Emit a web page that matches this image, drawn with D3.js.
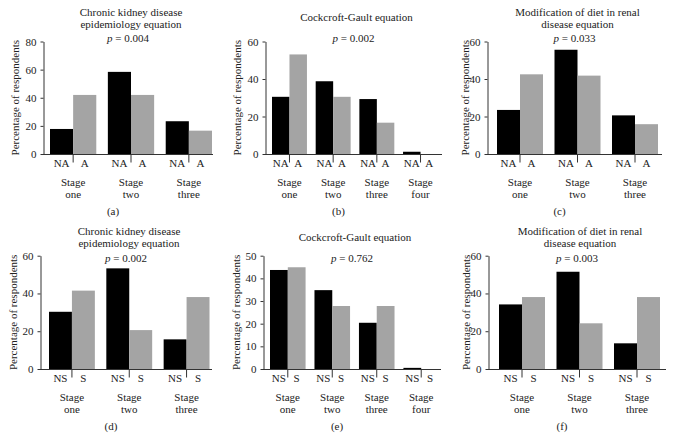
<!DOCTYPE html>
<html>
<head>
<meta charset="utf-8">
<script src="https://cdn.jsdelivr.net/npm/d3@7"></script>
<style>
  body { margin: 0; background: #fff; }
</style>
</head>
<body>
<svg id="chart" width="673" height="448"></svg>
<script>
// data
var stages3 = ["Stage one", "Stage two", "Stage three"];
var stages4 = ["Stage one", "Stage two", "Stage three", "Stage four"];

var ckdNA = [17.8, 58.4, 23.3], ckdA = [42.0, 42.0, 16.6];
var cgNA = [30.5, 38.8, 29.3, 1.2], cgA = [53.1, 30.5, 16.7, 0];
var mdrdNA = [23.5, 55.6, 20.6], mdrdA = [42.5, 41.8, 15.9];

var ckdNS = [30.3, 53.3, 15.7], ckdS = [41.5, 20.6, 38.1];
var cgNS = [43.7, 34.8, 20.4, 0.5], cgS = [44.9, 27.8, 27.8, 0];
var mdrdNS = [34.2, 51.5, 13.6], mdrdS = [38.1, 24.2, 38.1];

var ticks80 = [0, 20, 40, 60, 80], ticks60 = [0, 20, 40, 60], ticks50 = [0, 10, 20, 30, 40, 50];

// panels: data + where they sit
var panels = [
  {title: ["Chronic kidney disease", "epidemiology equation"], p: "0.004", letter: "(a)",
   stages: stages3, groups: ["NA", "A"], s1: ckdNA, s2: ckdA, ticks: ticks80,
   y0: 154, yTop: 41.5, axisX: 43, bx: [50, 212], axisEnd: 213, titleY: 16, pY: 42, ylab: 28},
  {title: ["Cockcroft-Gault equation"], p: "0.002", letter: "(b)",
   stages: stages4, groups: ["NA", "A"], s1: cgNA, s2: cgA, ticks: ticks60,
   y0: 154, yTop: 41.5, axisX: 265, bx: [272, 438], axisEnd: 442, titleY: 20.5, pY: 42, ylab: 28},
  {title: ["Modification of diet in renal", "disease equation"], p: "0.033", letter: "(c)",
   stages: stages3, groups: ["NA", "A"], s1: mdrdNA, s2: mdrdA, ticks: ticks60,
   y0: 154, yTop: 41.5, axisX: 487, bx: [497, 658], axisEnd: 662, titleY: 16, pY: 42, ylab: 22},
  {title: ["Chronic kidney disease", "epidemiology equation"], p: "0.002", letter: "(d)",
   stages: stages3, groups: ["NS", "S"], s1: ckdNS, s2: ckdS, ticks: ticks60,
   y0: 369, yTop: 255.7, axisX: 40, bx: [49, 209.5], axisEnd: 212, titleY: 235, pY: 262, ylab: 27},
  {title: ["Cockcroft-Gault equation"], p: "0.762", letter: "(e)",
   stages: stages4, groups: ["NS", "S"], s1: cgNS, s2: cgS, ticks: ticks50,
   y0: 369, yTop: 255.7, axisX: 263, bx: [270, 439], axisEnd: 441, titleY: 241, pY: 262, ylab: 27},
  {title: ["Modification of diet in renal", "disease equation"], p: "0.003", letter: "(f)",
   stages: stages3, groups: ["NS", "S"], s1: mdrdNS, s2: mdrdS, ticks: ticks60,
   y0: 369, yTop: 255.7, axisX: 488, bx: [499, 660], axisEnd: 666, titleY: 235, pY: 262, ylab: 22}
];

var FONT = '"Liberation Serif", "Times New Roman", serif';
var colors = ["#000000", "#a4a4a4"];
var svg = d3.select("#chart");

function txt(sel) {
  return sel.style("font-family", FONT).style("font-size", "11px").attr("fill", "#222");
}

panels.forEach(function(pn) {
  var g = svg.append("g");
  var maxV = pn.ticks[pn.ticks.length - 1];

  var y = d3.scaleLinear().domain([0, maxV]).range([pn.y0, pn.yTop]);
  var x = d3.scaleBand().domain(pn.stages).range(pn.bx).paddingInner(0.2).paddingOuter(0);
  var xs = d3.scaleBand().domain([0, 1]).range([0, x.bandwidth()]);

  var rows = pn.stages.map(function(s, i) { return {stage: s, v: [pn.s1[i], pn.s2[i]]}; });

  // bars
  var grp = g.selectAll(".grp").data(rows).enter().append("g")
    .attr("transform", function(d) { return "translate(" + x(d.stage) + ",0)"; });
  grp.selectAll("rect")
    .data(function(d) { return d.v; })
    .enter().append("rect")
      .attr("x", function(d, i) { return xs(i); })
      .attr("y", function(d) { return y(d); })
      .attr("width", xs.bandwidth())
      .attr("height", function(d) { return pn.y0 - y(d); })
      .attr("fill", function(d, i) { return colors[i]; });

  // sub labels NA / A
  txt(grp.selectAll(".sub")
    .data(pn.groups)
    .enter().append("text")
      .attr("x", function(d, i) { return xs(i) + xs.bandwidth() / 2; })
      .attr("y", pn.y0 + 13)
      .attr("text-anchor", "middle")
      .text(function(d) { return d; }));

  // stage labels, two lines
  grp.each(function(d) {
    var parts = d.stage.split(" ");
    var t = txt(d3.select(this).append("text").attr("text-anchor", "middle"));
    parts.forEach(function(w, k) {
      t.append("tspan").attr("x", x.bandwidth() / 2).attr("y", pn.y0 + 31.5 + k * 12).text(w);
    });
  });

  // x axis: baseline + ticks at band centres
  g.append("line")
    .attr("x1", pn.axisX).attr("x2", pn.axisEnd)
    .attr("y1", pn.y0 + 0.5).attr("y2", pn.y0 + 0.5)
    .attr("stroke", "#333");
  var xa = g.append("g")
    .attr("transform", "translate(0," + (pn.y0 + 0.5) + ")")
    .call(d3.axisBottom(x).tickSize(8).tickSizeOuter(0));
  xa.select(".domain").remove();
  xa.selectAll("text").remove();
  xa.selectAll("line").attr("stroke", "#333");

  // y axis
  var ya = g.append("g")
    .attr("transform", "translate(" + (pn.axisX + 0.5) + ",0)")
    .call(d3.axisLeft(y).tickValues(pn.ticks).tickSize(3).tickSizeOuter(0).tickPadding(4));
  ya.select(".domain").attr("stroke", "#333");
  ya.selectAll("line").attr("stroke", "#333");
  txt(ya.selectAll("text"));

  // y label
  txt(g.append("text")
    .attr("transform", "translate(" + (pn.axisX - pn.ylab + 4) + "," + ((pn.y0 + pn.yTop) / 2) + ") rotate(-90)")
    .attr("text-anchor", "middle")
    .text("Percentage of respondents"));

  var cx = (pn.axisX + pn.axisEnd) / 2;

  // title
  pn.title.forEach(function(line, k) {
    txt(g.append("text")
      .attr("x", cx + 3)
      .attr("y", pn.titleY + k * 12)
      .attr("text-anchor", "middle")
      .text(line));
  });

  var pt = txt(g.append("text")
    .attr("x", cx)
    .attr("y", pn.pY)
    .attr("text-anchor", "middle"));
  pt.append("tspan").style("font-style", "italic").text("p");
  pt.append("tspan").text(" = " + pn.p);

  // panel letter
  txt(g.append("text")
    .attr("x", cx - 15)
    .attr("y", pn.y0 + 60.5)
    .attr("text-anchor", "middle")
    .text(pn.letter));
});
</script>
</body>
</html>
